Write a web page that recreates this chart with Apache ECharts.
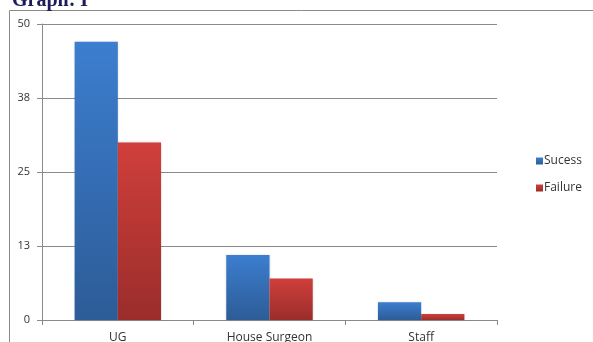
<!DOCTYPE html>
<html><head><meta charset="utf-8">
<script src="https://cdn.jsdelivr.net/npm/echarts@6/dist/echarts.min.js"></script>
<style>html,body{margin:0;padding:0;background:#fff}#c{width:593px;height:342px}</style>
</head><body><div id="c"></div>
<script>
const categories = ['UG', 'House Surgeon', 'Staff'];
const successValues = [47, 11, 3];
const failureValues = [30, 7, 1];
const yTicks = [0, 12.5, 25, 37.5, 50];

const chart = echarts.init(document.getElementById('c'), null, {renderer: 'canvas'});
function grad(top, bottom) {
  return new echarts.graphic.LinearGradient(0, 0, 0, 1, [{offset: 0, color: top}, {offset: 1, color: bottom}]);
}
chart.setOption({
  animation: false,
  graphic: [
    {type: 'rect', shape: {x: 9.5, y: 10.5, width: 700, height: 400}, style: {fill: 'none', stroke: '#8a8a8a', lineWidth: 1}, z: 0},
    {type: 'text', x: 12, y: 11, style: {text: 'Graph: I', font: 'bold 20px "Liberation Serif", serif', fill: '#1c1c5a', verticalAlign: 'bottom'}}
  ],
  grid: {left: 42, right: 96, top: 24, bottom: 22, containLabel: false, outerBoundsMode: 'none'},
  legend: {
    orient: 'vertical', left: 531, top: 150, itemWidth: 7, itemHeight: 7, itemGap: 15,
    icon: 'rect',
    textStyle: {fontFamily: '"Open Sans", sans-serif', fontSize: 12, color: '#333', padding: [0, 0, 0, -4]},
    data: ['Sucess', 'Failure']
  },
  xAxis: {
    type: 'category', data: categories,
    axisLine: {lineStyle: {color: '#8a8a8a'}},
    axisTick: {show: true, length: 5, lineStyle: {color: '#8a8a8a'}},
    axisLabel: {color: '#333', fontFamily: '"Open Sans", sans-serif', fontSize: 12, margin: 12}
  },
  yAxis: {
    type: 'value', min: 0, max: 50, interval: 12.5,
    axisLine: {show: true, lineStyle: {color: '#8a8a8a'}},
    axisTick: {show: true, length: 5, lineStyle: {color: '#8a8a8a'}},
    splitLine: {lineStyle: {color: '#8a8a8a'}},
    axisLabel: {color: '#333', fontFamily: '"Open Sans", sans-serif', fontSize: 11, margin: 12,
      formatter: v => String(Math.round(v))}
  },
  series: [
    {name: 'Sucess', type: 'bar', data: successValues, barWidth: '28.5%', barGap: '0%',
      itemStyle: {color: grad('#3c7ecf', '#2d5c97'), shadowColor: 'rgba(0,0,0,0.15)', shadowBlur: 2}},
    {name: 'Failure', type: 'bar', data: failureValues, barWidth: '28.5%',
      itemStyle: {color: grad('#d03f3b', '#9a2d2b'), shadowColor: 'rgba(0,0,0,0.15)', shadowBlur: 2}}
  ]
});
</script></body></html>
